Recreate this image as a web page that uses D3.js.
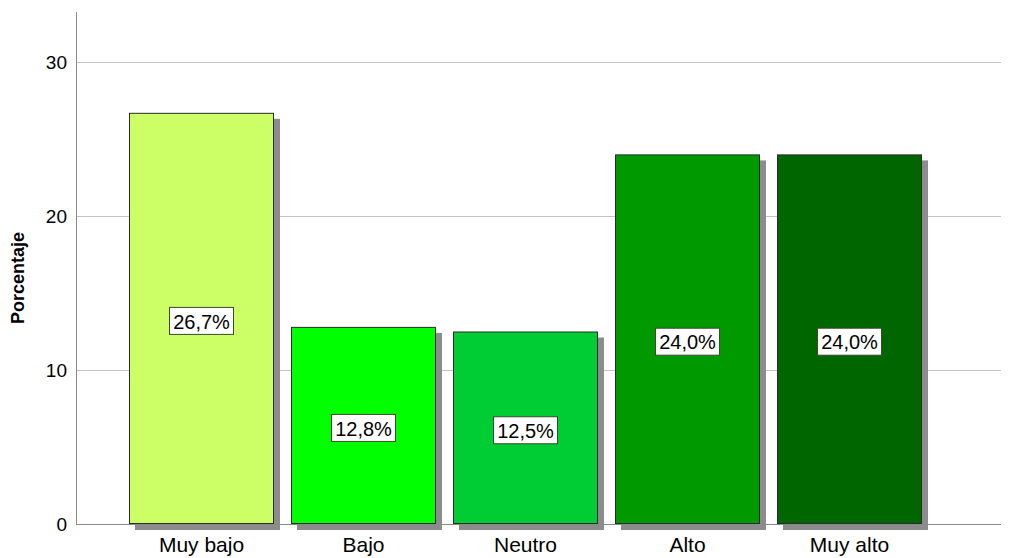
<!DOCTYPE html>
<html><head><meta charset="utf-8">
<script src="https://cdn.jsdelivr.net/npm/d3@7"></script>
<style>body{margin:0;background:#fff}svg{display:block}text{font-family:"Liberation Sans",Arial,sans-serif}</style>
</head><body>
<svg id="c" width="1019" height="558"></svg>
<script>
const categories = ["Muy bajo","Bajo","Neutro","Alto","Muy alto"];
const values = [26.7,12.8,12.5,24.0,24.0];
const valueLabels = ["26,7%","12,8%","12,5%","24,0%","24,0%"];
const colors = ["#ccff66","#00ff00","#00cc33","#009900","#006600"];
const yTicks = [0,10,20,30];

const svg = d3.select("#c");
const y = d3.scaleLinear().domain([0,30]).range([524,62]);
const x = d3.scaleBand().domain(categories).range([120.5,930.5]).paddingInner(17/162).paddingOuter(8.5/162);
const left = 76, right = 1001;

// gridlines
svg.append("g").selectAll("line").data(yTicks.filter(d=>d>0)).join("line")
  .attr("x1",left).attr("x2",right).attr("y1",d=>y(d)+0.5).attr("y2",d=>y(d)+0.5)
  .attr("stroke","#c4c4c4").attr("stroke-width",1);

// y axis via d3
const yAxis = d3.axisLeft(y).tickValues(yTicks).tickSize(0).tickPadding(9);
const ga = svg.append("g").attr("transform",`translate(${left},0)`).call(yAxis);
ga.select(".domain").remove();
ga.selectAll("text").attr("font-size",19).attr("fill","#000").attr("font-family","Liberation Sans, Arial, sans-serif");
svg.append("line").attr("x1",left+0.5).attr("x2",left+0.5).attr("y1",12).attr("y2",y(0)).attr("stroke","#8a8a8a");

// shadows
const data = categories.map((c,i)=>({c,v:values[i],l:valueLabels[i],col:colors[i]}));
svg.append("g").selectAll("rect").data(data).join("rect")
  .attr("x",d=>x(d.c)+6).attr("y",d=>y(d.v)+6).attr("width",x.bandwidth()).attr("height",d=>y(0)-y(d.v))
  .attr("fill","#8c8c8c");
// baseline
svg.append("line").attr("x1",left).attr("x2",right).attr("y1",y(0)+0.5).attr("y2",y(0)+0.5).attr("stroke","#8a8a8a");
// bars
svg.append("g").selectAll("rect").data(data).join("rect")
  .attr("x",d=>x(d.c)+0.5).attr("y",d=>y(d.v)+0.5).attr("width",x.bandwidth()-1).attr("height",d=>y(0)-y(d.v)-1)
  .attr("fill",d=>d.col).attr("stroke","#2a2a2a").attr("stroke-width",1);

// value labels
const lg = svg.append("g").selectAll("g").data(data).join("g")
  .attr("transform",d=>`translate(${x(d.c)+x.bandwidth()/2},${y(d.v/2)+3})`);
lg.append("rect").attr("x",-32).attr("y",-14).attr("width",64).attr("height",27)
  .attr("fill","#fff").attr("stroke","#3a4a2a").attr("stroke-width",1);
lg.append("text").text(d=>d.l).attr("text-anchor","middle").attr("dy","0.36em")
  .attr("font-size",20).attr("fill","#000").attr("y",0);

// x labels
const xAxis = d3.axisBottom(x).tickSize(0).tickPadding(13);
const gx = svg.append("g").attr("transform",`translate(0,${y(0)})`).call(xAxis);
gx.select(".domain").remove();
gx.selectAll("text").attr("font-size",21).attr("fill","#000").attr("font-family","Liberation Sans, Arial, sans-serif");

// y title
svg.append("text").attr("transform","translate(24,278) rotate(-90)").attr("text-anchor","middle")
  .attr("font-size",18).attr("font-weight","bold").attr("fill","#000").text("Porcentaje");
</script>
</body></html>
